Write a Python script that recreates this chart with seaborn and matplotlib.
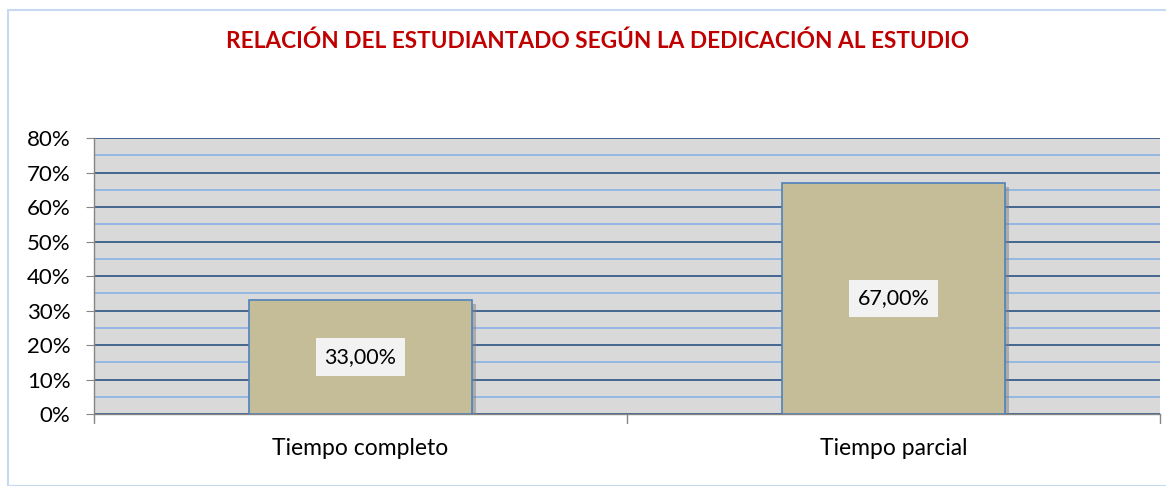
import matplotlib
matplotlib.use("Agg")
import matplotlib.pyplot as plt
import matplotlib.patheffects as pe
from matplotlib.patches import Rectangle
from matplotlib.ticker import MultipleLocator, PercentFormatter
import pandas as pd
import seaborn as sns

categories = ["Tiempo completo", "Tiempo parcial"]
values = [33.0, 67.0]
title = "RELACIÓN DEL ESTUDIANTADO SEGÚN LA DEDICACIÓN AL ESTUDIO"

sns.set_style("white")
plt.rcParams["font.family"] = ["Lato", "DejaVu Sans"]
plt.rcParams["text.color"] = "black"
plt.rcParams["xtick.color"] = "black"
plt.rcParams["ytick.color"] = "black"

df = pd.DataFrame({"cat": categories, "val": values})

fig = plt.figure(figsize=(11.66, 4.86), dpi=100)
ax = fig.add_axes([94 / 1166, 1 - 414 / 486, 1066 / 1166, 276 / 486])

# outer chart border
fig.patches.append(Rectangle((8 / 1166, 0), 1.1, 1 - 10 / 486, transform=fig.transFigure,
                             fill=False, edgecolor="#C6D9F1", linewidth=1.5))

sns.barplot(df, x="cat", y="val", ax=ax, color="#C4BD97", width=0.417,
            edgecolor="#4F81BD", linewidth=1.2, saturation=1, zorder=3)
for p in ax.patches:
    p.set_path_effects([pe.SimplePatchShadow(offset=(3, -3), shadow_rgbFace="#808080", alpha=0.5),
                        pe.Normal()])

ax.set_facecolor("#D9D9D9")
ax.set_ylim(0, 80)
ax.set_xlim(-0.5, 1.5)
ax.yaxis.set_major_locator(MultipleLocator(10))
ax.yaxis.set_minor_locator(MultipleLocator(5))
ax.yaxis.set_major_formatter(PercentFormatter(decimals=0))
ax.grid(axis="y", which="major", color="#385D8A", linewidth=1.3, zorder=1)
ax.grid(axis="y", which="minor", color="#8EB4E3", linewidth=1.3, zorder=1)
ax.set_axisbelow(True)

for s in ["top", "right"]:
    ax.spines[s].set_visible(False)
for s in ["left", "bottom"]:
    ax.spines[s].set_color("#868686")
    ax.spines[s].set_linewidth(1)

ax.tick_params(axis="y", which="major", direction="out", length=6, color="#868686",
               labelcolor="black", labelsize=16, left=True, pad=11)
ax.tick_params(axis="y", which="minor", length=0)
ax.set_xticks([0, 1])
ax.set_xticklabels(categories)
ax.tick_params(axis="x", length=0, labelsize=16.5, labelcolor="black", pad=17)
# category boundary ticks
for xb in [-0.5, 0.5, 1.5]:
    ax.plot([xb, xb], [0, -2.5], color="#868686", linewidth=1, clip_on=False)

ax.set_xlabel("")
ax.set_ylabel("")

for i, v in enumerate(values):
    ax.text(i, v / 2, f"{v:.2f}".replace(".", ",") + "%", ha="center", va="center",
            fontsize=15.5, zorder=5, color="black",
            bbox=dict(boxstyle="square,pad=0.4", facecolor="#F2F2F2", edgecolor="none"))

fig.text(598 / 1166, 1 - 41 / 486, title, ha="center", va="center", color="#C00000",
         fontsize=16.3, fontweight="bold")

fig.savefig("out.png", dpi=100)
